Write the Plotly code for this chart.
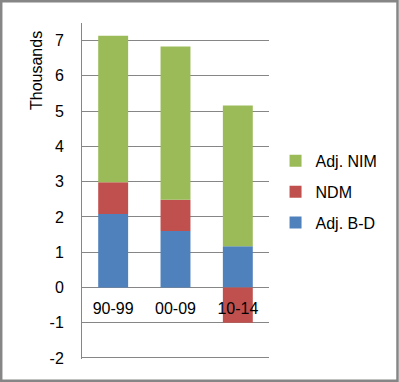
import plotly.graph_objects as go

categories = ["90-99", "00-09", "10-14"]
adj_bd = [2.08, 1.60, 1.17]
ndm = [0.90, 0.89, -1.00]
adj_nim = [4.16, 4.34, 3.99]

series_names = ["Adj. B-D", "NDM", "Adj. NIM"]
colors = ["#4F81BD", "#C0504D", "#9BBB59"]
legend_ranks = [3, 2, 1]
y_tick_vals = [-2, -1, 0, 1, 2, 3, 4, 5, 6, 7]
y_tick_text = ["-2", "-1", "0", "1", "2", "3", "4", "5", "6", "7"]

W, H = 399, 382
ml, mr, mt, mb = 82, 130, 23, 23
y_min, y_max = -2.03, 7.5

fig = go.Figure()
for name, vals, col, rk in zip(series_names, [adj_bd, ndm, adj_nim], colors, legend_ranks):
    fig.add_trace(go.Bar(x=categories, y=vals, name=name, legendgroup=name, legendrank=rk,
                         marker=dict(color=col, line=dict(width=0))))

pw, ph = W - ml - mr, H - mt - mb
font = dict(family="Liberation Sans, Arial, sans-serif", size=16, color="#000000")

fig.update_layout(
    width=W, height=H,
    margin=dict(l=ml, r=mr, t=mt, b=mb),
    barmode="relative",
    bargap=0.52,
    paper_bgcolor="white",
    plot_bgcolor="white",
    font=font,
    showlegend=True,
    legend=dict(
        traceorder="grouped",
        tracegroupgap=7,
        x=1.035, y=0.64, xanchor="left", yanchor="top",
        font=font,
        bgcolor="rgba(0,0,0,0)",
        itemwidth=30,
    ),
    xaxis=dict(
        type="category",
        anchor="free",
        position=(0 - y_min) / (y_max - y_min),
        showgrid=False,
        showline=False,
        ticks="",
        ticklabelstandoff=10,
        tickfont=font,
    ),
    yaxis=dict(
        range=[y_min, y_max],
        tickmode="array",
        tickvals=y_tick_vals,
        ticktext=y_tick_text,
        showgrid=True,
        gridcolor="#868686",
        gridwidth=1,
        zeroline=True,
        zerolinecolor="#868686",
        zerolinewidth=1,
        showline=True,
        linecolor="#868686",
        linewidth=1,
        ticks="",
        ticklabelstandoff=14,
        tickfont=font,
    ),
    annotations=[
        dict(text="Thousands", xref="paper", yref="paper",
             x=(37 - ml) / pw, y=1 - (71 - mt) / ph,
             xanchor="center", yanchor="middle", textangle=-90,
             showarrow=False, font=font),
    ],
    shapes=[
        dict(type="rect", xref="paper", yref="paper",
             x0=(1.2 - ml) / pw, x1=(W - 1.5 - ml) / pw,
             y0=1 - (H - 1.2 - mt) / ph, y1=1 - (1.2 - mt) / ph,
             line=dict(color="#868686", width=2.5), fillcolor="rgba(0,0,0,0)", layer="above"),
    ],
)

fig.write_html("out.html", config={"displayModeBar": False},
               post_script="document.body.style.margin='0';")
